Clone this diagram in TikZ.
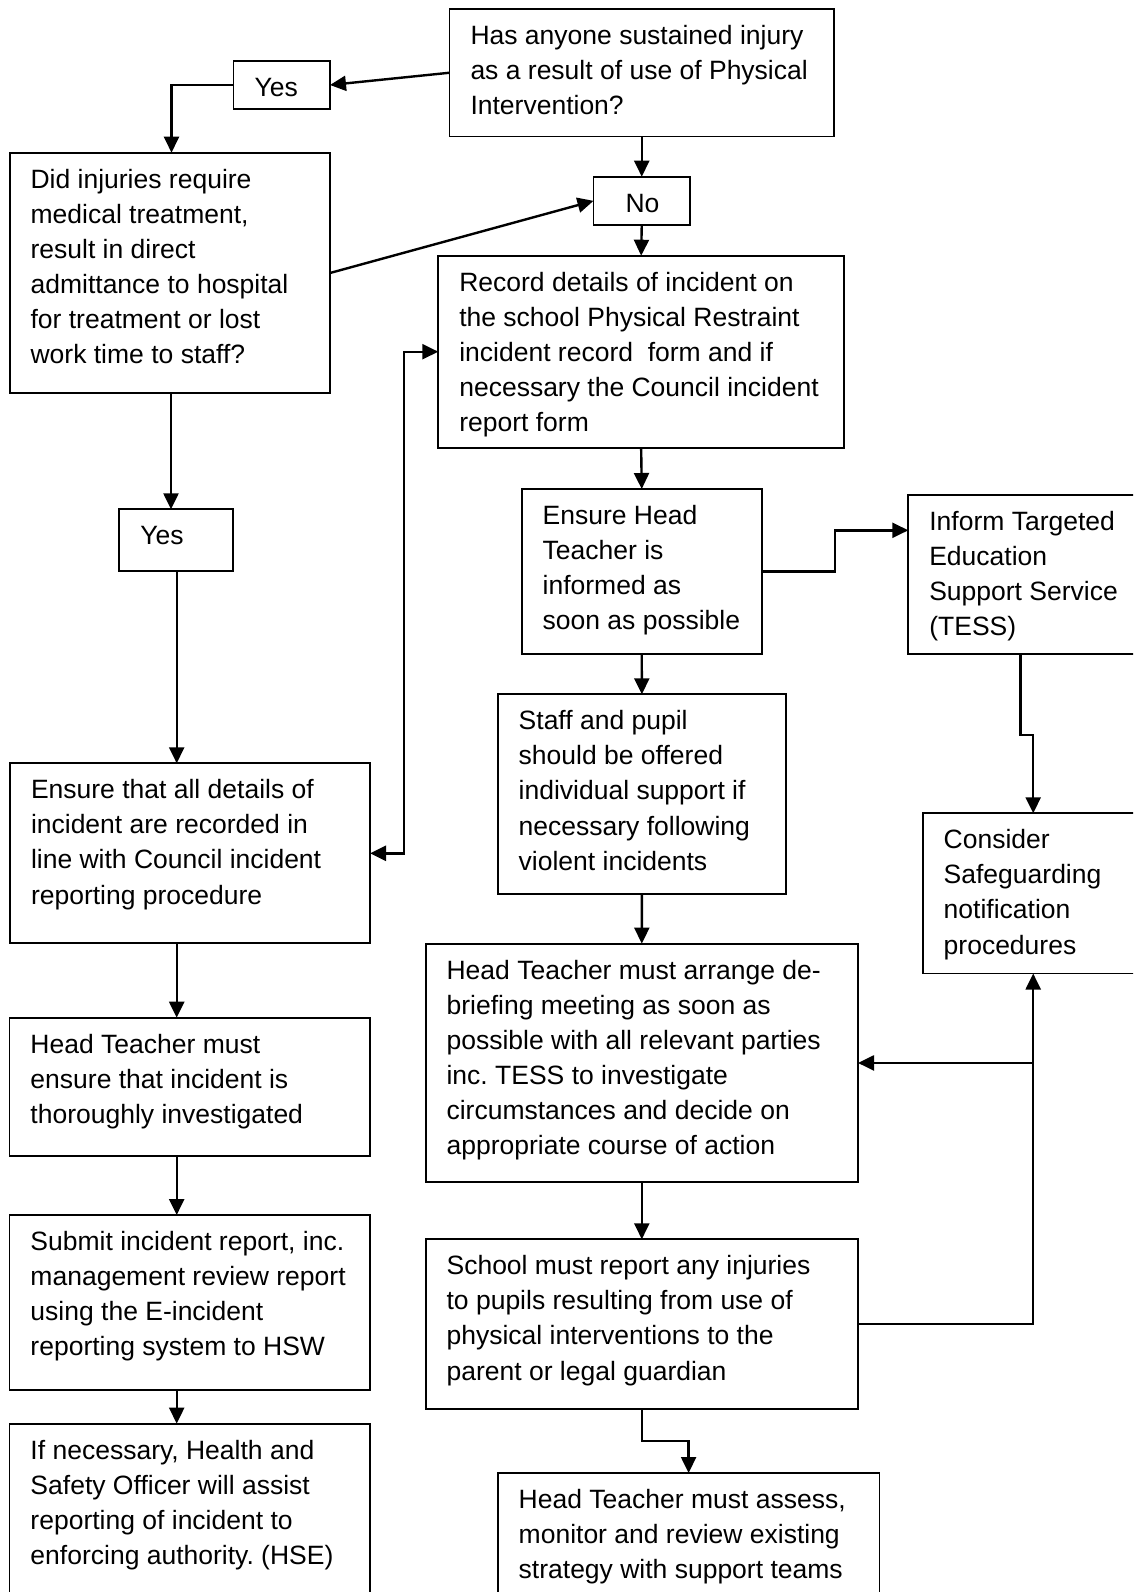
\documentclass[tikz,border=0pt]{standalone}
\usepackage{fontspec}
\setmainfont{Liberation Sans}
\usetikzlibrary{arrows.meta}
\frenchspacing
\tikzset{
  box/.style={draw, line width=1.9pt, rectangle, inner sep=0pt, outer sep=0pt},
  txt/.style={inner sep=0pt, outer sep=0pt, align=left, font=\fontsize{26.5}{35.1}\selectfont},
  arr/.style={line width=2.4pt, -{Triangle[length=16pt,width=15pt]}},
  arrtwo/.style={line width=2.4pt, {Triangle[length=16pt,width=15pt]}-{Triangle[length=16pt,width=15pt]}},
}
\newcommand\mybox[6]{%
  \node[box, anchor=north west, minimum width={(#4)-(#2)}, minimum height={(#5)-(#3)}] (#1) at (#2,#3) {};
  \node[txt, anchor=north west] (#1t) at ([xshift=21pt,yshift=-10.9pt]#1.north west) {\strut #6};
}
\begin{document}
\begin{tikzpicture}[x=1pt,y=-1pt]
\path[use as bounding box, clip] (0,0) rectangle (1133,1592);
\fill[white] (0,0) rectangle (1133,1592);

% right column / centre
\mybox{q1}{449.5}{9}{834}{136.5}{Has anyone sustained injury\\as a result of use of Physical\\Intervention?}
\mybox{yesa}{233.5}{61}{330}{109}{Yes}
\mybox{q2}{9.6}{152.7}{330}{393.3}{Did injuries require\\medical treatment,\\result in direct\\admittance to hospital\\for treatment or lost\\work time to staff?}
\node[box, anchor=north west, minimum width=96.5, minimum height=48.3] (no) at (593.5,176.7) {};
\node[txt, anchor=north west] (not) at ([xshift=32pt,yshift=-10.9pt]no.north west) {\strut No};
\mybox{rec}{438.3}{255.7}{844}{447.7}{Record details of incident on\\the school Physical Restraint\\incident record\ \ form and if\\necessary the Council incident\\report form}
\mybox{eht}{521.7}{489}{761.8}{654.3}{Ensure Head\\Teacher is\\informed as\\soon as possible}
\mybox{tess}{908.3}{495}{1150}{654.3}{Inform Targeted\\Education\\Support Service\\(TESS)}
\mybox{staff}{497.7}{694.3}{786}{894}{Staff and pupil\\should be offered\\individual support if\\necessary following\\violent incidents}
\mybox{cons}{922.7}{813.3}{1143.7}{973.5}{Consider\\Safeguarding\\notification\\procedures}
\mybox{deb}{425.6}{943.6}{858}{1182.3}{Head Teacher must arrange de-\\briefing meeting as soon as\\possible with all relevant parties\\inc. TESS to investigate\\circumstances and decide on\\appropriate course of action}
\mybox{sch}{425.6}{1239.3}{858}{1408.6}{School must report any injuries\\to pupils resulting from use of\\physical interventions to the\\parent or legal guardian}
\mybox{hta}{497.7}{1473}{879.5}{1610}{Head Teacher must assess,\\monitor and review existing\\strategy with support teams}

% left column
\mybox{yesb}{119.3}{509.3}{233.3}{571}{Yes}
\mybox{eall}{10}{763.3}{370}{943.3}{Ensure that all details of\\incident are recorded in\\line with Council incident\\reporting procedure}
\mybox{hte}{9.5}{1017.7}{370}{1156.2}{Head Teacher must\\ensure that incident is\\thoroughly investigated}
\mybox{sub}{9.5}{1215}{370}{1390.2}{Submit incident report, inc.\\management review report\\using the E-incident\\reporting system to HSW}
\mybox{ifn}{9.5}{1423.6}{370}{1610}{If necessary, Health and\\Safety Officer will assist\\reporting of incident to\\enforcing authority. (HSE)}

% helper coordinates
\coordinate (c1) at (834.9,530.3);
\coordinate (c2) at (1020.3,735);
\coordinate (c3) at (404,600);

% connectors
\draw[arr] (q1.west) -- (yesa.east);
\draw[arr] (yesa.west) -| (171.5,0 |- q2.north);
\draw[arr] (q2.east) -- (no.west);
\draw[arr] (q1.south) -- (no.north);
\draw[arr] (no.south) -- (rec.north);
\draw[arr] (rec.south) -- (eht.north);
\draw[arr] (eht.east) -| (c1) -- (tess.west |- c1);
\draw[arr] (c2 |- tess.south) -- (c2) -| (cons.north);
\draw[arr] (eht.south) -- (staff.north);
\draw[arr] (staff.south) -- (deb.north);
\draw[arr] (deb.south) -- (sch.north);
\draw[arr] (sch.east) -| (cons.south);
\draw[arr] (cons.south |- deb.east) -- (deb.east);
\draw[arr] (sch.south) -- ++(0,32.2) -| (hta.north);
\draw[arrtwo] (eall.east) -| (c3) |- (rec.west);
\draw[arr] (171,0 |- q2.south) -- (171,0 |- yesb.north);
\draw[arr] (176.7,0 |- yesb.south) -- (176.7,0 |- eall.north);
\draw[arr] (176.7,0 |- eall.south) -- (176.7,0 |- hte.north);
\draw[arr] (176.7,0 |- hte.south) -- (176.7,0 |- sub.north);
\draw[arr] (176.7,0 |- sub.south) -- (176.7,0 |- ifn.north);
\end{tikzpicture}
\end{document}
